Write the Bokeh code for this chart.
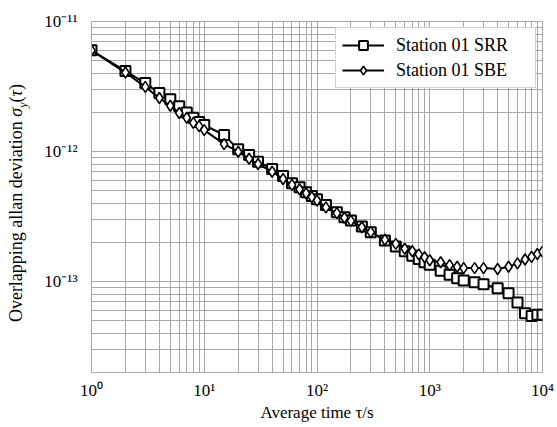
from bokeh.plotting import figure
from bokeh.models import FixedTicker, CustomJSTickFormatter, Range1d, Div
from bokeh.layouts import row
from bokeh.embed import file_html
from bokeh.resources import INLINE

# ---- data ----
tau = [1, 2, 3, 4, 5, 6, 7, 8, 9, 10,
       15, 20, 25, 30, 40, 50, 60, 70, 80, 90, 100,
       120, 150, 175, 200, 250, 300, 400, 500, 600, 700, 800, 900, 1000,
       1250, 1500, 1750, 2000, 2500, 3000, 4000, 5000, 6000, 7000, 8000, 9000, 10000]

srr = [6.0e-12, 4.16e-12, 3.36e-12, 2.82e-12, 2.52e-12, 2.23e-12, 2.0e-12, 1.82e-12, 1.69e-12, 1.6e-12,
       1.34e-12, 1.04e-12, 9.4e-13, 8.35e-13, 7.34e-13, 6.49e-13, 5.7e-13, 5.32e-13, 4.87e-13, 4.56e-13, 4.3e-13,
       3.89e-13, 3.42e-13, 3.13e-13, 2.95e-13, 2.65e-13, 2.4e-13, 2.07e-13, 1.86e-13, 1.71e-13, 1.58e-13, 1.49e-13, 1.41e-13, 1.35e-13,
       1.21e-13, 1.13e-13, 1.06e-13, 1.02e-13, 9.9e-14, 9.55e-14, 8.9e-14, 8.15e-14, 6.9e-14, 5.7e-14, 5.45e-14, 5.55e-14, 5.55e-14]

sbe = [6.0e-12, 4.05e-12, 3.14e-12, 2.58e-12, 2.25e-12, 1.98e-12, 1.82e-12, 1.66e-12, 1.57e-12, 1.46e-12,
       1.14e-12, 9.97e-13, 8.8e-13, 8.02e-13, 7.0e-13, 6.15e-13, 5.54e-13, 5.13e-13, 4.78e-13, 4.46e-13, 4.2e-13,
       3.72e-13, 3.36e-13, 3.1e-13, 2.93e-13, 2.62e-13, 2.4e-13, 2.1e-13, 1.95e-13, 1.79e-13, 1.71e-13, 1.62e-13, 1.54e-13, 1.46e-13,
       1.41e-13, 1.34e-13, 1.3e-13, 1.27e-13, 1.27e-13, 1.27e-13, 1.25e-13, 1.3e-13, 1.38e-13, 1.48e-13, 1.55e-13, 1.63e-13, 1.7e-13]

series_names = ["Station 01 SRR", "Station 01 SBE"]

x_tick_exps = [0, 1, 2, 3, 4]
x_tick_labels = ["10\u2070", "10\u00b9", "10\u00b2", "10\u00b3", "10\u2074"]
y_tick_exps = [-11, -12, -13]
y_tick_labels = ["10\u207b\u00b9\u00b9", "10\u207b\u00b9\u00b2", "10\u207b\u00b9\u00b3"]

x_label = "Average time \u03c4/s"
y_label_html = ("Overlapping allan deviation <i>\u03c3</i><sub style=\"font-size:12px\"><i>y</i></sub>"
                "(<i>\u03c4</i>)")

FONT = "Liberation Serif"
GRID = "#a8a8a8"
LABEL_W = 30

p = figure(x_axis_type="log", y_axis_type="log",
           x_range=Range1d(1, 1e4), y_range=Range1d(2e-14, 1e-11),
           frame_width=451, frame_height=351,
           min_border_left=91 - LABEL_W, min_border_right=15, min_border_top=21, min_border_bottom=55,
           output_backend="svg", toolbar_location=None,
           background_fill_color="white", border_fill_color="white", margin=0)
p.outline_line_color = GRID

# tickers
x_major = [10.0 ** e for e in x_tick_exps]
x_minor = [m * 10.0 ** e for e in x_tick_exps[:-1] for m in range(2, 10)]
y_major = [10.0 ** e for e in y_tick_exps]
y_minor = [m * 10.0 ** e for e in [-14, -13, -12] for m in range(2, 10)]
xt = FixedTicker(ticks=x_major, minor_ticks=x_minor)
yt = FixedTicker(ticks=y_major, minor_ticks=y_minor)
p.xaxis.ticker = xt
p.yaxis.ticker = yt
p.xgrid.ticker = xt
p.ygrid.ticker = yt

fmt_code = """
const e = Math.round(Math.log10(tick));
const i = exps.indexOf(e);
return i >= 0 ? labels[i] : "";
"""
p.xaxis.formatter = CustomJSTickFormatter(args=dict(exps=x_tick_exps, labels=x_tick_labels), code=fmt_code)
p.yaxis.formatter = CustomJSTickFormatter(args=dict(exps=y_tick_exps, labels=y_tick_labels), code=fmt_code)

for ax in (p.xaxis, p.yaxis):
    ax.axis_line_color = GRID
    ax.major_tick_line_color = None
    ax.minor_tick_line_color = None
    ax.major_label_text_font = FONT
    ax.major_label_text_font_size = "17px"
    ax.major_label_text_color = "black"
p.xaxis.major_label_standoff = 2
p.yaxis.major_label_standoff = 8

p.xaxis.axis_label = x_label
p.xaxis.axis_label_text_font = FONT
p.xaxis.axis_label_text_font_size = "17px"
p.xaxis.axis_label_text_font_style = "normal"
p.xaxis.axis_label_text_color = "black"
p.xaxis.axis_label_standoff = 0

for g in (p.xgrid, p.ygrid):
    g.grid_line_color = GRID
    g.grid_line_width = 1
    g.minor_grid_line_color = GRID
    g.minor_grid_line_width = 1

# series
p.line(tau, srr, line_color="black", line_width=2, legend_label=series_names[0])
p.scatter(tau, srr, marker="square", size=10, fill_color="white", line_color="black", line_width=2,
          legend_label=series_names[0])
p.line(tau, sbe, line_color="black", line_width=2, legend_label=series_names[1])
p.scatter(tau, sbe, marker="diamond", size=11, fill_color="white", line_color="black", line_width=1.6,
          legend_label=series_names[1])

lg = p.legend[0]
lg.location = "top_right"
lg.margin = 6
lg.padding = 6
lg.spacing = 3
lg.glyph_width = 42
lg.glyph_height = 22
lg.label_height = 22
lg.label_width = 133
lg.label_standoff = 12
lg.label_text_font = FONT
lg.label_text_font_size = "18px"
lg.label_text_color = "black"
lg.border_line_color = GRID
lg.border_line_width = 1
lg.background_fill_color = "white"
lg.background_fill_alpha = 1.0

# rotated y-axis title (real HTML text, reads bottom to top)
ylab = Div(
    text=('<div style="position:relative;width:%dpx;height:427px;">'
          '<div style="position:absolute;left:7px;bottom:105px;writing-mode:vertical-rl;'
          'text-orientation:sideways;transform:rotate(180deg);white-space:nowrap;'
          'font-family:\'Liberation Serif\';font-size:18px;line-height:18px;color:black;">'
          '%s</div></div>') % (LABEL_W, y_label_html),
    width=LABEL_W, height=427, margin=0)

layout = row(ylab, p, spacing=0, margin=0)

with open("out.html", "w") as f:
    f.write(file_html(layout, INLINE))
